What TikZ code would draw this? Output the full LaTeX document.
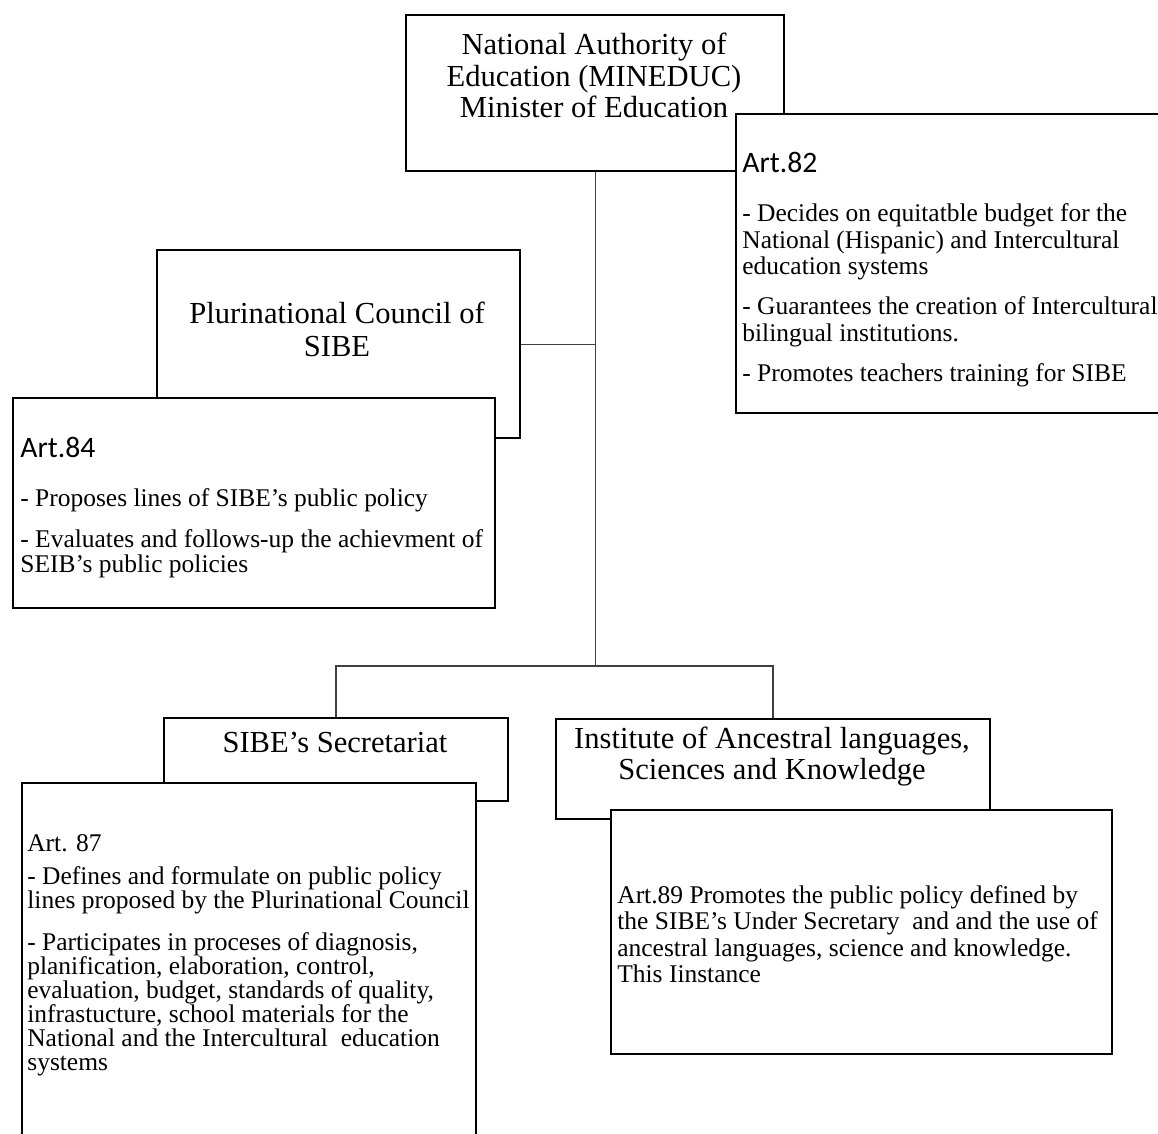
\documentclass[tikz,border=0pt]{standalone}
\usepackage{fontspec}
\setmainfont{Liberation Serif}
\newfontfamily\artfont{Carlito}
\begin{document}
\begin{tikzpicture}[x=0.02cm, y=-0.02cm,
    box/.style = {draw, line width=1.3pt, fill=white, inner sep=0pt, anchor=north west},
    head/.style = {font=\fontsize{17.4}{17.9}\selectfont, align=center, anchor=north, inner sep=0pt},
    body/.style = {align=left, anchor=north west, inner sep=0pt},
    link/.style = {line width=0.7pt, draw=black!75}]
\useasboundingbox (0,0) rectangle (1158,1133);

\node[box, minimum width=7.56cm, minimum height=3.12cm] (mined) at (405,14) {};
\node[box, minimum width=9.00cm, minimum height=5.98cm] (art82) at (735,113) {};
\node[box, minimum width=7.26cm, minimum height=3.76cm] (plur) at (156,249) {};
\node[box, minimum width=9.64cm, minimum height=4.20cm] (art84) at (12,397) {};
\node[box, minimum width=6.88cm, minimum height=1.66cm] (sec) at (163,717) {};
\node[box, minimum width=9.08cm, minimum height=7.36cm] (art87) at (21,782) {};
\node[box, minimum width=8.68cm, minimum height=2.00cm] (inst) at (555,718) {};
\node[box, minimum width=10.02cm, minimum height=4.88cm] (art89) at (610,809) {};

\coordinate (hub) at (mined.south |- 0,666);
\draw[link] (mined.south) -- (hub);
\draw[link] (plur.east) -- (plur.east -| mined.south);
\draw[link] (sec.north) |- (hub) -| (inst.north);

\node[head] (minedtxt) at (594,33) {National Authority of\\Education (MINEDUC)\\Minister of Education};
\node[head, font=\fontsize{17.4}{18.8}\selectfont] (plurtxt) at (337,302) {Plurinational Council of\\SIBE};
\node[head] (sectxt) at (335,732) {SIBE’s Secretariat};
\node[head, font=\fontsize{17.4}{17.6}\selectfont] (insttxt) at (772,727) {Institute of Ancestral languages,\\Sciences and Knowledge};

\node[body, font=\fontsize{14.5}{15.1}\selectfont] (art82txt) at (742,152) {{\artfont\fontsize{16.9}{16}\selectfont Art.82}\\[12.8pt]
  - Decides on equitatble budget for the\\National (Hispanic) and Intercultural\\education systems\\[7.7pt]
  - Guarantees the creation of Intercultural\\bilingual institutions.\\[7.7pt]
  - Promotes teachers training for SIBE};
\node[body, font=\fontsize{14.5}{14.2}\selectfont] (art84txt) at (20,437) {{\artfont\fontsize{16.9}{16}\selectfont Art.84}\\[13.7pt]
  - Proposes lines of SIBE’s public policy\\[9.1pt]
  - Evaluates and follows-up the achievment of\\SEIB’s public policies};
\node[body, font=\fontsize{14.5}{13.7}\selectfont] (art87txt) at (27,834) {Art. 87\\[5.1pt]
  - Defines and formulate on public policy\\lines proposed by the Plurinational Council\\[10.2pt]
  - Participates in proceses of diagnosis,\\planification, elaboration, control,\\evaluation, budget, standards of quality,\\infrastucture, school materials for the\\National and the Intercultural~ education\\systems};
\node[body, font=\fontsize{14.5}{15.1}\selectfont] (art89txt) at (617,885) {Art.89 Promotes the public policy defined by\\the SIBE’s Under Secretary~ and and the use of\\ancestral languages, science and knowledge.\\This Iinstance};
\end{tikzpicture}
\end{document}
